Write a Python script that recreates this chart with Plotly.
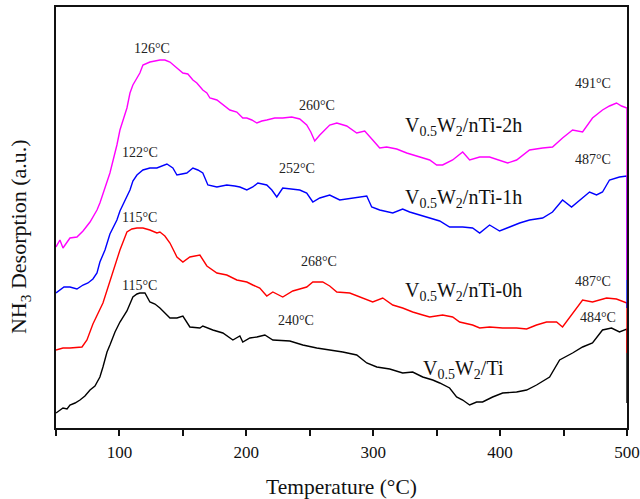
import plotly.graph_objects as go

# Temperature (°C) and NH3 desorption intensity (a.u.)
t_2h = [50.0, 53.1, 55.5, 61.0, 66.5, 71.3, 76.8, 82.3, 84.6, 90.2, 92.5, 98.0, 100.4, 105.9, 108.3, 110.6,
        116.1, 118.5, 121.7, 124.0, 128.0, 131.9, 135.8, 139.8, 145.3, 150.0, 153.9, 157.9, 161.0, 165.7,
        168.9, 171.3, 176.8, 181.5, 187.0, 192.5, 197.2, 200.4, 204.3, 208.3, 212.2, 216.1, 222.4, 228.7,
        235.8, 242.1, 247.6, 250.8, 253.9, 257.9, 261.8, 265.7, 271.3, 279.1, 287.0, 293.3, 299.6, 305.1,
        310.6, 318.5, 326.4, 336.6, 344.5, 350.0, 354.7, 362.6, 370.5, 376.0, 383.9, 391.7, 399.6, 405.9,
        413.0, 423.2, 433.5, 441.3, 449.2, 457.1, 465.0, 472.8, 480.7, 486.2, 491.7, 495.7, 500.0, 500.0]
v_2h = [181, 188, 180, 190, 191, 197, 206, 218, 225, 248, 255, 283, 298, 320, 335, 343,
        355, 363, 365, 366, 367, 368, 368, 366, 360, 355, 354, 348, 345, 338,
        335, 330, 328, 323, 318, 316, 310, 310, 308, 305, 307, 308, 310, 310,
        311, 309, 303, 296, 287, 293, 298, 303, 305, 302, 295, 297, 288, 280,
        281, 279, 275, 271, 268, 263, 263, 268, 276, 268, 271, 271, 268, 265,
        268, 278, 280, 281, 290, 298, 296, 310, 318, 322, 325, 322, 320, 148]

t_1h = [50.0, 53.1, 56.3, 61.0, 66.5, 71.3, 75.2, 79.1, 82.3, 84.6, 88.6, 92.5, 98.0, 100.4, 105.9, 108.3,
        110.6, 113.8, 118.5, 124.0, 129.5, 134.3, 137.4, 142.1, 145.3, 149.2, 153.1, 157.9, 161.8, 165.7,
        169.7, 176.8, 184.6, 190.9, 194.9, 200.4, 205.1, 209.1, 213.0, 216.1, 220.1, 224.0, 228.7, 235.8,
        242.1, 247.6, 252.4, 257.9, 265.7, 273.6, 283.9, 294.9, 298.8, 305.1, 315.4, 323.2, 328.7, 336.6,
        344.5, 352.4, 360.2, 370.5, 378.3, 383.9, 391.7, 399.6, 407.5, 415.4, 423.2, 433.5, 441.3, 449.2,
        456.3, 462.6, 470.5, 476.0, 480.7, 486.2, 494.1, 500.0, 500.0]
v_1h = [135, 138, 141, 141, 139, 143, 145, 149, 155, 166, 178, 194, 208, 217, 231, 238,
        247, 253, 258, 260, 260, 262, 264, 260, 253, 254, 255, 260, 258, 255,
        243, 241, 243, 242, 241, 238, 241, 245, 244, 243, 238, 231, 240, 239,
        238, 235, 226, 230, 233, 228, 230, 232, 221, 218, 215, 219, 216, 213,
        210, 207, 201, 201, 200, 195, 203, 197, 201, 205, 208, 210, 216, 228,
        221, 228, 236, 233, 236, 248, 251, 252, 120]

t_0h = [50.0, 55.5, 61.0, 66.5, 70.5, 74.4, 79.1, 87.0, 90.9, 94.9, 100.4, 105.9, 109.8, 113.8, 118.5, 124.0,
        129.5, 131.9, 135.8, 139.8, 145.3, 150.0, 155.5, 163.4, 168.9, 176.8, 184.6, 192.5, 200.4, 205.1,
        210.6, 216.1, 220.9, 228.7, 236.6, 242.1, 247.6, 252.4, 260.2, 265.7, 271.3, 281.5, 289.4, 299.6,
        307.5, 315.4, 323.2, 331.1, 339.0, 344.5, 354.7, 362.6, 368.1, 378.3, 383.9, 391.7, 402.0, 413.0,
        420.9, 428.7, 436.6, 444.5, 449.2, 457.1, 465.0, 472.8, 483.9, 491.7, 500.0, 500.0]
v_0h = [78, 80, 80, 81, 81, 88, 104, 125, 140, 156, 178, 196, 199, 200, 200, 198,
        195, 196, 192, 185, 171, 166, 171, 173, 162, 155, 153, 148, 146, 143,
        140, 132, 136, 131, 137, 139, 141, 146, 146, 142, 136, 135, 131, 126,
        130, 123, 120, 116, 113, 111, 113, 111, 106, 103, 100, 101, 100, 100,
        99, 103, 106, 106, 101, 115, 128, 126, 130, 129, 125, 75]

t_ti = [50.0, 53.1, 55.5, 58.7, 61.0, 65.0, 68.9, 72.8, 76.8, 80.7, 84.6, 87.0, 90.2, 92.5, 96.5, 100.4,
        105.9, 110.6, 113.8, 116.1, 120.1, 124.0, 128.0, 131.9, 135.8, 139.8, 145.3, 150.0, 155.5, 163.4,
        165.7, 173.6, 181.5, 189.4, 194.9, 197.2, 202.8, 208.3, 214.6, 220.9, 234.3, 244.5, 255.5, 265.7,
        276.0, 287.0, 294.9, 302.8, 313.0, 323.2, 331.1, 339.0, 346.9, 352.4, 360.2, 365.7, 370.5, 376.0,
        381.5, 386.2, 394.1, 402.0, 413.0, 420.9, 428.7, 439.0, 446.9, 457.1, 465.0, 472.8, 480.7, 487.8,
        494.1, 500.0, 500.0]
v_ti = [15, 18, 20, 19, 23, 25, 28, 32, 38, 42, 51, 61, 76, 83, 96, 106,
        117, 131, 134, 135, 135, 126, 124, 120, 115, 110, 110, 112, 101, 100,
        102, 98, 95, 88, 92, 86, 90, 91, 93, 88, 87, 83, 80, 78,
        76, 73, 65, 61, 59, 55, 56, 51, 48, 45, 40, 31, 28, 23,
        26, 26, 31, 35, 36, 38, 43, 51, 68, 75, 81, 85, 98, 100,
        96, 99, 25]

series = [
    (t_ti, v_ti, "#000000", "V0.5W2/Ti"),
    (t_0h, v_0h, "#FF0000", "V0.5W2/nTi-0h"),
    (t_1h, v_1h, "#0000FF", "V0.5W2/nTi-1h"),
    (t_2h, v_2h, "#FF00FF", "V0.5W2/nTi-2h"),
]

# peak labels: (temperature, intensity, text)
peak_x = [125.5, 116, 116, 116, 255.5, 240, 257, 239, 473.5, 473.5, 473.5, 477.5]
peak_y = [380, 276, 211, 143, 323, 260, 167, 108, 345, 269, 147, 111]
peak_t = ["126°C", "122°C", "115°C", "115°C", "260°C", "252°C", "268°C", "240°C",
          "491°C", "487°C", "487°C", "484°C"]

# sample labels
lab_x = [323.5, 323.5, 323.5, 337.5]
lab_y = [302, 230, 137, 59]
lab_t = ["V<sub>0.5</sub>W<sub>2</sub>/nTi-2h", "V<sub>0.5</sub>W<sub>2</sub>/nTi-1h",
         "V<sub>0.5</sub>W<sub>2</sub>/nTi-0h", "V<sub>0.5</sub>W<sub>2</sub>/Ti"]

FONT = "Liberation Serif"

fig = go.Figure()
for t, v, c, name in series:
    fig.add_trace(go.Scatter(x=t, y=v, mode="lines", line=dict(color=c, width=1.4),
                             name=name, showlegend=False))

for x, y, s in zip(peak_x, peak_y, peak_t):
    fig.add_annotation(x=x, y=y, text=s, showarrow=False, xanchor="center", yanchor="middle",
                       font=dict(family=FONT, size=14, color="#222222"))

for x, y, s in zip(lab_x, lab_y, lab_t):
    fig.add_annotation(x=x, y=y, text=s, showarrow=False, xanchor="left", yanchor="middle",
                       font=dict(family=FONT, size=20, color="#111111"))

fig.add_annotation(xref="paper", yref="paper", x=-0.062, y=0.455,
                   text="NH<sub>3</sub> Desorption (a.u.)", textangle=-90, showarrow=False,
                   xanchor="center", yanchor="middle",
                   font=dict(family=FONT, size=22, color="#111111"))

fig.update_layout(
    width=640, height=499,
    margin=dict(l=56, r=13, t=7, b=71),
    paper_bgcolor="white", plot_bgcolor="white",
    font=dict(family=FONT, color="#111111"),
    xaxis=dict(range=[50, 500], tickmode="array", tickvals=[100, 200, 300, 400, 500],
               ticks="outside", ticklen=6, tickwidth=1.5, tickcolor="#111111",
               minor=dict(tickvals=[50, 150, 250, 350, 450], ticks="outside", ticklen=6,
                          tickwidth=1.5, tickcolor="#111111"),
               showline=True, linecolor="#111111", linewidth=1.5, mirror=True,
               showgrid=False, zeroline=False, layer="below traces", automargin=False,
               ticklabelstandoff=2,
               tickfont=dict(family=FONT, size=17, color="#111111"),
               title=dict(text="Temperature (°C)", font=dict(family=FONT, size=21.5, color="#111111"),
                          standoff=18)),
    yaxis=dict(range=[0, 421], showticklabels=False, ticks="", showline=True,
               linecolor="#111111", linewidth=1.5, mirror=True, showgrid=False,
               zeroline=False, layer="below traces", automargin=False),
)

fig.write_html("out.html")
